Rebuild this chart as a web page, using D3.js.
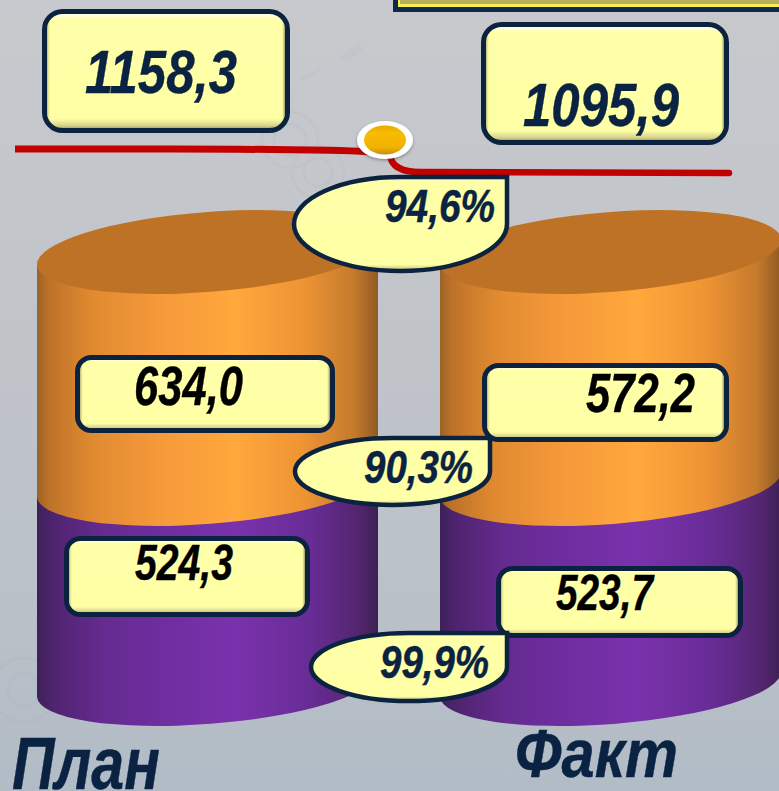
<!DOCTYPE html>
<html lang="ru">
<head>
<meta charset="utf-8">
<title>План и факт</title>
<script src="https://cdn.jsdelivr.net/npm/d3@7/dist/d3.min.js"></script>
<style>
html,body{margin:0;padding:0;background:#c0c4ca;overflow:hidden}
svg{display:block}
text{font-family:"Liberation Sans",Arial,sans-serif;font-weight:700;font-style:italic}
</style>
</head>
<body>
<svg id="chart" width="779" height="791" viewBox="0 0 779 791"></svg>
<script>
// Data
const categories = ["План", "Факт"];
const lowerValues = [524.3, 523.7];
const upperValues = [634.0, 572.2];
const totalValues = [1158.3, 1095.9];
const lowerPercent = 99.9;
const upperPercent = 90.3;
const totalPercent = 94.6;

const W = 779, H = 791;
const svg = d3.select("#chart");
const defs = svg.append("defs");
const ruLocale = d3.formatLocale({decimal:",",thousands:" ",grouping:[3],currency:["","₽"]});
const fmt = ruLocale.format(".1f");

function grad(id, horizontal, stops){
  const g = defs.append("linearGradient").attr("id",id).attr("x1",0).attr("y1",0)
    .attr("x2",horizontal?1:0).attr("y2",horizontal?0:1);
  stops.forEach(s=>g.append("stop").attr("offset",s[0]).attr("stop-color",s[1]).attr("stop-opacity",s[2]===undefined?1:s[2]));
}
grad("orange",true,[[0,"#9c6228"],[0.035,"#bd7228"],[0.16,"#e08a30"],[0.35,"#f5983a"],[0.58,"#ffa83c"],[0.78,"#ee9434"],[0.93,"#c57a2c"],[1,"#8f5a24"]]);
grad("purple",true,[[0,"#3e2158"],[0.05,"#4f2470"],[0.2,"#662b92"],[0.4,"#702ea2"],[0.58,"#7a32ac"],[0.8,"#682c96"],[0.94,"#532670"],[1,"#3e2054"]]);
grad("bg",false,[[0,"#c7c9cd"],[0.35,"#c2c5ca"],[0.7,"#bcc2c9"],[1,"#b2bcc6"]]);
grad("boxFill",false,[[0,"#ffffff"],[0.07,"#ffffa8"],[0.9,"#ffffa6"],[0.96,"#d4d28a"],[1,"#80804f"]]);
grad("boxSide",true,[[0,"#7a7a48",0.55],[0.015,"#ffffa6",0],[0.985,"#ffffa6",0],[1,"#6a6a40",0.75]]);
grad("bubbleFill",false,[[0,"#f5f5c0"],[0.06,"#ffffa8"],[0.93,"#ffffa6"],[1,"#b8b876"]]);
grad("gold",false,[[0,"#e8a800"],[0.25,"#f8bc00"],[0.75,"#f2b200"],[1,"#c98f10"]]);
const shadow = defs.append("filter").attr("id","soft").attr("x","-20%").attr("y","-20%").attr("width","140%").attr("height","150%");
shadow.append("feDropShadow").attr("dx",0).attr("dy",1.5).attr("stdDeviation",1.5).attr("flood-color","#333").attr("flood-opacity",0.45);

// background
svg.append("rect").attr("width",W).attr("height",H).attr("fill","url(#bg)");
const deco = svg.append("g").attr("fill","none").attr("stroke","#8d96a3").attr("opacity",0.06);
[[318,172,14],[318,172,26],[24,690,16],[24,690,32],[290,140,16],[290,140,28]].forEach(c=>deco.append("circle").attr("cx",c[0]).attr("cy",c[1]).attr("r",c[2]).attr("stroke-width",3));
[[340,60,360,44],[345,62,362,48],[300,80,320,70]].forEach(l=>deco.append("line").attr("x1",l[0]).attr("y1",l[1]).attr("x2",l[2]).attr("y2",l[3]).attr("stroke-width",4));

// header panel (cropped by the top edge of the picture)
svg.append("rect").attr("x",393).attr("y",-20).attr("width",400).attr("height",32).attr("fill","#10294a");
svg.append("rect").attr("x",398).attr("y",-20).attr("width",400).attr("height",27).attr("fill","#f7ef5a");
svg.append("rect").attr("x",400).attr("y",-20).attr("width",400).attr("height",24).attr("fill","#b8af5e");

// scales
const x = d3.scaleBand().domain(categories).range([37,781]).paddingInner(62/403);
const yFor = i => d3.scaleLinear()
  .domain([0, lowerValues[i], totalValues[i]])
  .range([684, 484, 252]);

const RY = 40, TILT = 13;
const RX = () => Math.hypot(x.bandwidth(), 2*TILT)/2;
const ROT = () => -Math.atan2(2*TILT, x.bandwidth())*180/Math.PI;

function sidePath(xL,xR,y0,y1){
  const a = `${RX()} ${RY} ${ROT()}`;
  return `M${xL},${y1+TILT} L${xL},${y0+TILT} A${a} 0 0 ${xR},${y0-TILT} L${xR},${y1-TILT} Z`;
}
function topPath(xL,xR,y){
  const a = `${RX()} ${RY} ${ROT()}`;
  return `M${xL},${y+TILT} A${a} 0 0 ${xR},${y-TILT} A${a} 0 0 ${xL},${y+TILT} Z`;
}

categories.forEach((c,i)=>{
  const y = yFor(i), xL = x(c), xR = xL + x.bandwidth();
  const g = svg.append("g").attr("class","cylinder");
  g.append("path").attr("d",sidePath(xL,xR,y(0),y(lowerValues[i]))).attr("fill","url(#purple)");
  g.append("path").attr("d",sidePath(xL,xR,y(lowerValues[i]),y(totalValues[i]))).attr("fill","url(#orange)");
  g.append("path").attr("d",topPath(xL,xR,y(totalValues[i]))).attr("fill","#bd7226");
});

// red connector line and marker
const lineGen = d3.line().curve(d3.curveBasis);
svg.append("path").attr("d",lineGen([[15,149],[15,149],[120,149],[240,149],[340,150],[375,152],[375,152]]))
  .attr("fill","none").attr("stroke","#c20000").attr("stroke-width",7);
svg.append("path").attr("d","M390,155 Q392,172 420,172 L729,173")
  .attr("fill","none").attr("stroke","#c20000").attr("stroke-width",6.5).attr("stroke-linecap","round");
svg.append("ellipse").attr("cx",385).attr("cy",140).attr("rx",28).attr("ry",19).attr("fill","#ffffff").attr("filter","url(#soft)");
svg.append("ellipse").attr("cx",385).attr("cy",140).attr("rx",21).attr("ry",14.5).attr("fill","url(#gold)");

// labels
const NAVY = "#0a2342";
function label(str,xa,xb,base,size,color){
  svg.append("text").attr("x",xa).attr("y",base)
    .attr("font-size",size).attr("fill",color).attr("stroke",color).attr("stroke-width",0.4)
    .attr("textLength",xb-xa).attr("lengthAdjust","spacingAndGlyphs").text(str);
}
function box(x0,y0,x1,y1,r){
  svg.append("rect").attr("x",x0+2.5).attr("y",y0+2.5).attr("width",x1-x0-5).attr("height",y1-y0-5)
    .attr("rx",r).attr("fill","url(#boxFill)").attr("stroke","#0c2340").attr("stroke-width",5);
  svg.append("rect").attr("x",x0+5).attr("y",y0+5).attr("width",x1-x0-10).attr("height",y1-y0-10)
    .attr("rx",r-2).attr("fill","url(#boxSide)");
}
function bubble(x0,y0,x1,y1){
  const cx=(x0+x1)/2, cy=(y0+y1)/2, rx=(x1-x0)/2, ry=(y1-y0)/2;
  const a=`${rx} ${ry} 0 0 0`;
  svg.append("path").attr("d",`M${cx},${y0} A${a} ${x0},${cy} A${a} ${cx},${y1} A${a} ${x1},${cy} L${x1},${y0} Z`)
    .attr("fill","url(#bubbleFill)").attr("stroke","#0c2340").attr("stroke-width",4.5).attr("stroke-linejoin","miter");
}

box(42,9,290,133,18);
label(fmt(totalValues[0]),85,237,93,62,NAVY);
box(481,22,729,145,18);
label(fmt(totalValues[1]),523,679,126,62,NAVY);

box(75,355,335,433,14);
label(fmt(upperValues[0]),134,243,405,56,"#000");
box(482,363,729,442,14);
label(fmt(upperValues[1]),586,695,412,56,"#000");

box(64,536,310,617,14);
label(fmt(lowerValues[0]),135,233,580,50,"#000");
box(496,566,743,638,14);
label(fmt(lowerValues[1]),556,653,610,50,"#000");

bubble(294,177,507,271);
label(fmt(totalPercent)+"%",385,495,222,46,NAVY);
bubble(295,438,490,505);
label(fmt(upperPercent)+"%",364,473,483,46,NAVY);
bubble(311,633,507,701);
label(fmt(lowerPercent)+"%",380,489,678,46,NAVY);

label(categories[0],12,160,789,74,NAVY);
label(categories[1],515,678,777,68,NAVY);
</script>
</body>
</html>
